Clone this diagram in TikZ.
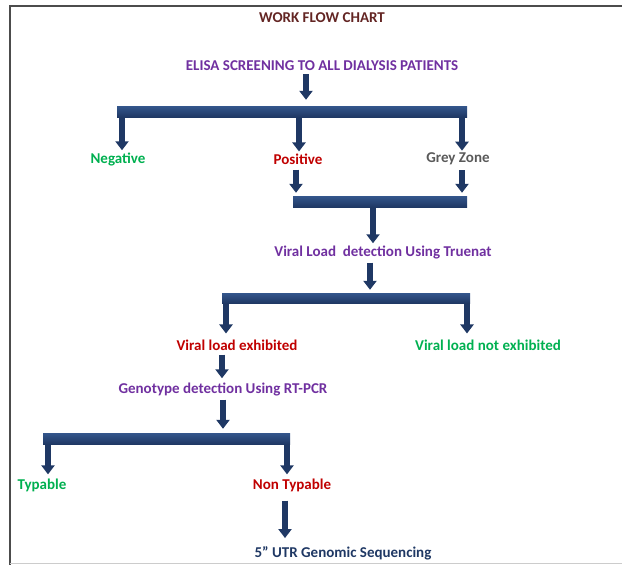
\documentclass[tikz,border=0pt]{standalone}
\usepackage{fontspec}
\setmainfont{Carlito}
\usetikzlibrary{arrows.meta,positioning}
\definecolor{navy}{RGB}{31,56,100}
\definecolor{navylight}{RGB}{52,86,140}
\definecolor{titlered}{RGB}{99,37,35}
\definecolor{purp}{RGB}{112,48,160}
\definecolor{redtxt}{RGB}{192,0,0}
\definecolor{greentxt}{RGB}{0,176,80}
\definecolor{greytxt}{RGB}{89,89,89}
\tikzset{
  lbl/.style={font=\bfseries\fontsize{15}{17}\selectfont, inner sep=1pt},
  bar/.style={draw=none, top color=navylight, bottom color=navy, minimum height=11pt, inner sep=0pt},
  flow/.style={draw=navy, line width=5.5pt, -{Triangle[width=13pt,length=9pt]}, shorten >=1pt}
}
\begin{document}
\begin{tikzpicture}[x=1pt,y=-1pt]
        \useasboundingbox (0,0) rectangle (622,565);
        % Rahmen
        \draw [gray!60!black, line width=1.5pt] (10,565) -- (10,6) -- (622,6);
        \draw [gray!40, line width=1pt] (10,563.5) -- (622,563.5);
        % Texte
        \node[lbl, text=titlered] (title) at (322,18) {WORK FLOW CHART};
        \node[lbl, text=purp] (elisa) at (322,66) {ELISA SCREENING TO ALL DIALYSIS PATIENTS};
        \node[lbl, text=greentxt] (neg) at (118,159) {Negative};
        \node[lbl, text=redtxt] (pos) at (298,159) {Positive};
        \node[lbl, text=greytxt] (grey) at (458,159) {Grey Zone};
        \node[lbl, text=purp] (truenat) at (383,252) {Viral Load\ \ detection Using Truenat};
        \node[lbl, text=redtxt] (vle) at (237,345) {Viral load exhibited};
        \node[lbl, text=greentxt] (vlne) at (488,345) {Viral load not exhibited};
        \node[lbl, text=purp] (rtpcr) at (223,389) {Genotype detection Using RT-PCR};
        \node[lbl, text=greentxt] (typ) at (42,485) {Typable};
        \node[lbl, text=redtxt] (nontyp) at (292,485) {Non Typable};
        \node[lbl, text=navy] (utr) at (343,553) {5” UTR Genomic Sequencing};
        % Balken
        \node[bar, minimum width=350pt] (bar1) at (292,111.5) {};
        \node[bar, minimum width=174pt] (bar2) at (380,201.5) {};
        \node[bar, minimum width=248pt, minimum height=10pt] (bar3) at (346,298) {};
        \node[bar, minimum width=247pt] (bar4) at (166.5,438.5) {};
        % Pfeile
        \draw [flow, shorten <=2pt, shorten >=6pt] ([xshift=-16pt]elisa.south) -- ([xshift=-16pt]elisa.south |- bar1.north);
        \draw [flow] ([xshift=4pt]bar1.south -| neg) -- ([xshift=4pt]neg.north);
        \draw [flow] ([xshift=1pt]bar1.south -| pos) -- ([xshift=1pt]pos.north);
        \draw [flow] ([xshift=4pt]bar1.south -| grey) -- ([xshift=4pt]grey.north);
        \draw [flow, shorten <=4pt, shorten >=3pt] ([xshift=-2pt]pos.south) -- ([xshift=-2pt]pos.south |- bar2.north);
        \draw [flow, shorten <=4pt, shorten >=3pt] ([xshift=4pt]grey.south) -- ([xshift=4pt]grey.south |- bar2.north);
        \draw [flow] ([xshift=-10pt]bar2.south -| truenat) -- ([xshift=-10pt]truenat.north);
        \draw [flow, shorten <=3pt, shorten >=3pt] ([xshift=-13pt]truenat.south) -- ([xshift=-13pt]truenat.south |- bar3.north);
        \draw [flow, shorten >=5pt] ([xshift=-11pt]bar3.south -| vle) -- ([xshift=-11pt]vle.north);
        \draw [flow, shorten >=5pt] ([xshift=-21pt]bar3.south -| vlne) -- ([xshift=-21pt]vlne.north);
        \draw [flow, shorten <=3pt, shorten >=3pt] ([xshift=-15pt]vle.south) -- ([xshift=-15pt]vle.south |- rtpcr.north);
        \draw [flow, shorten <=3pt, shorten >=4pt] (rtpcr.south) -- (rtpcr.south |- bar4.north);
        \draw [flow, shorten >=3pt] ([xshift=6pt]bar4.south -| typ) -- ([xshift=6pt]typ.north);
        \draw [flow, shorten >=3pt] ([xshift=-5pt]bar4.south -| nontyp) -- ([xshift=-5pt]nontyp.north);
        \draw [flow, shorten <=8pt, shorten >=7pt] ([xshift=-7pt]nontyp.south) -- ([xshift=-7pt]nontyp.south |- utr.north);
\end{tikzpicture}
\end{document}
